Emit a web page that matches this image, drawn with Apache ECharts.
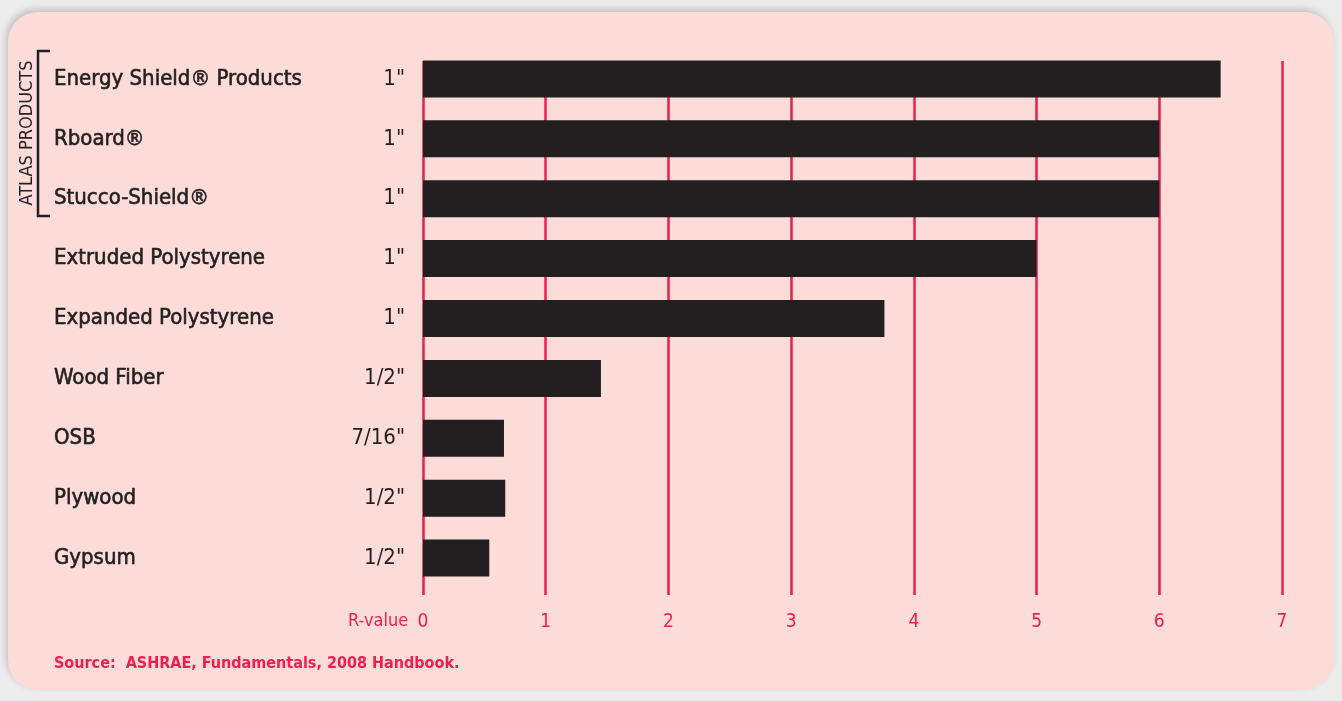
<!DOCTYPE html>
<html>
<head>
<meta charset="utf-8">
<script src="https://cdn.jsdelivr.net/npm/echarts@6/dist/echarts.min.js"></script>
<style>
  html, body { margin: 0; padding: 0; width: 1342px; height: 701px; overflow: hidden; background: #ececec; }
  .card {
    position: absolute; left: 8px; top: 12px; width: 1326px; height: 678px;
    background: #fbdcd8; border-radius: 30px;
    box-shadow: -2px -3px 6px rgba(0,0,0,0.18);
  }
  #chart { position: absolute; left: 0; top: 0; width: 1342px; height: 701px; }
</style>
</head>
<body>
<div class="card"></div>
<div id="chart"></div>
<script>
// 材料名称
const materials = ['Energy Shield® Products', 'Rboard®', 'Stucco-Shield®', 'Extruded Polystyrene',
  'Expanded Polystyrene', 'Wood Fiber', 'OSB', 'Plywood', 'Gypsum']
// 厚度
const thickness = ['1"', '1"', '1"', '1"', '1"', '1/2"', '7/16"', '1/2"', '1/2"']
// R值
const rValues = [6.5, 6, 6, 5, 3.76, 1.45, 0.66, 0.67, 0.54]
const xTicks = [0, 1, 2, 3, 4, 5, 6, 7]

const red = '#ec1f4f'
const ink = '#231f20'
const labelFont = '"DejaVu Sans Condensed", sans-serif'

const chart = echarts.init(document.getElementById('chart'))
const option = {
  animation: false,
  grid: [
    { left: 423, width: 859, top: 49, height: 539 },
    { left: 423, width: 859, top: 61, height: 534 }
  ],
  xAxis: [
    { gridIndex: 0, type: 'value', min: 0, max: 7, show: false },
    {
      gridIndex: 1, type: 'value', min: xTicks[0], max: xTicks[xTicks.length - 1], interval: 1,
      axisLine: { show: false }, axisTick: { show: false },
      splitLine: { show: true, lineStyle: { color: red, width: 2.5 } },
      axisLabel: { color: red, fontSize: 19, margin: 18, fontFamily: labelFont }
    }
  ],
  yAxis: [
    {
      gridIndex: 0, type: 'category', data: materials, inverse: true,
      axisLine: { show: false }, axisTick: { show: false },
      axisLabel: { align: 'left', margin: 369, color: ink, fontSize: 22, fontWeight: 'normal', fontFamily: labelFont,
        textBorderColor: ink, textBorderWidth: 0.6 }
    },
    {
      gridIndex: 0, type: 'category', data: thickness, inverse: true, position: 'left',
      axisLine: { show: false }, axisTick: { show: false },
      axisLabel: { align: 'right', margin: 18, color: ink, fontSize: 22, fontFamily: labelFont }
    },
    { gridIndex: 1, type: 'value', show: false }
  ],
  series: [
    {
      type: 'bar', xAxisIndex: 0, yAxisIndex: 0, data: rValues, barWidth: 37, z: 5,
      itemStyle: { color: ink }
    }
  ],
  graphic: [
    {
      type: 'text', left: 348, top: 612,
      style: { text: 'R-value', fill: red, fontSize: 18, fontFamily: labelFont }
    },
    {
      type: 'text', left: 54, top: 656,
      style: { text: 'Source:  ASHRAE, Fundamentals, 2008 Handbook.', fill: red, fontSize: 16, fontWeight: 'bold', fontFamily: labelFont }
    },
    {
      type: 'text', x: 27, y: 133, rotation: Math.PI / 2,
      style: { text: 'ATLAS PRODUCTS', fill: ink, fontSize: 18, fontFamily: labelFont, align: 'center', verticalAlign: 'middle' }
    },
    {
      type: 'polyline',
      shape: { points: [[50, 51], [38, 51], [38, 216], [50, 216]] },
      style: { stroke: ink, lineWidth: 2.5, fill: null }
    }
  ]
}
chart.setOption(option)
</script>
</body>
</html>
